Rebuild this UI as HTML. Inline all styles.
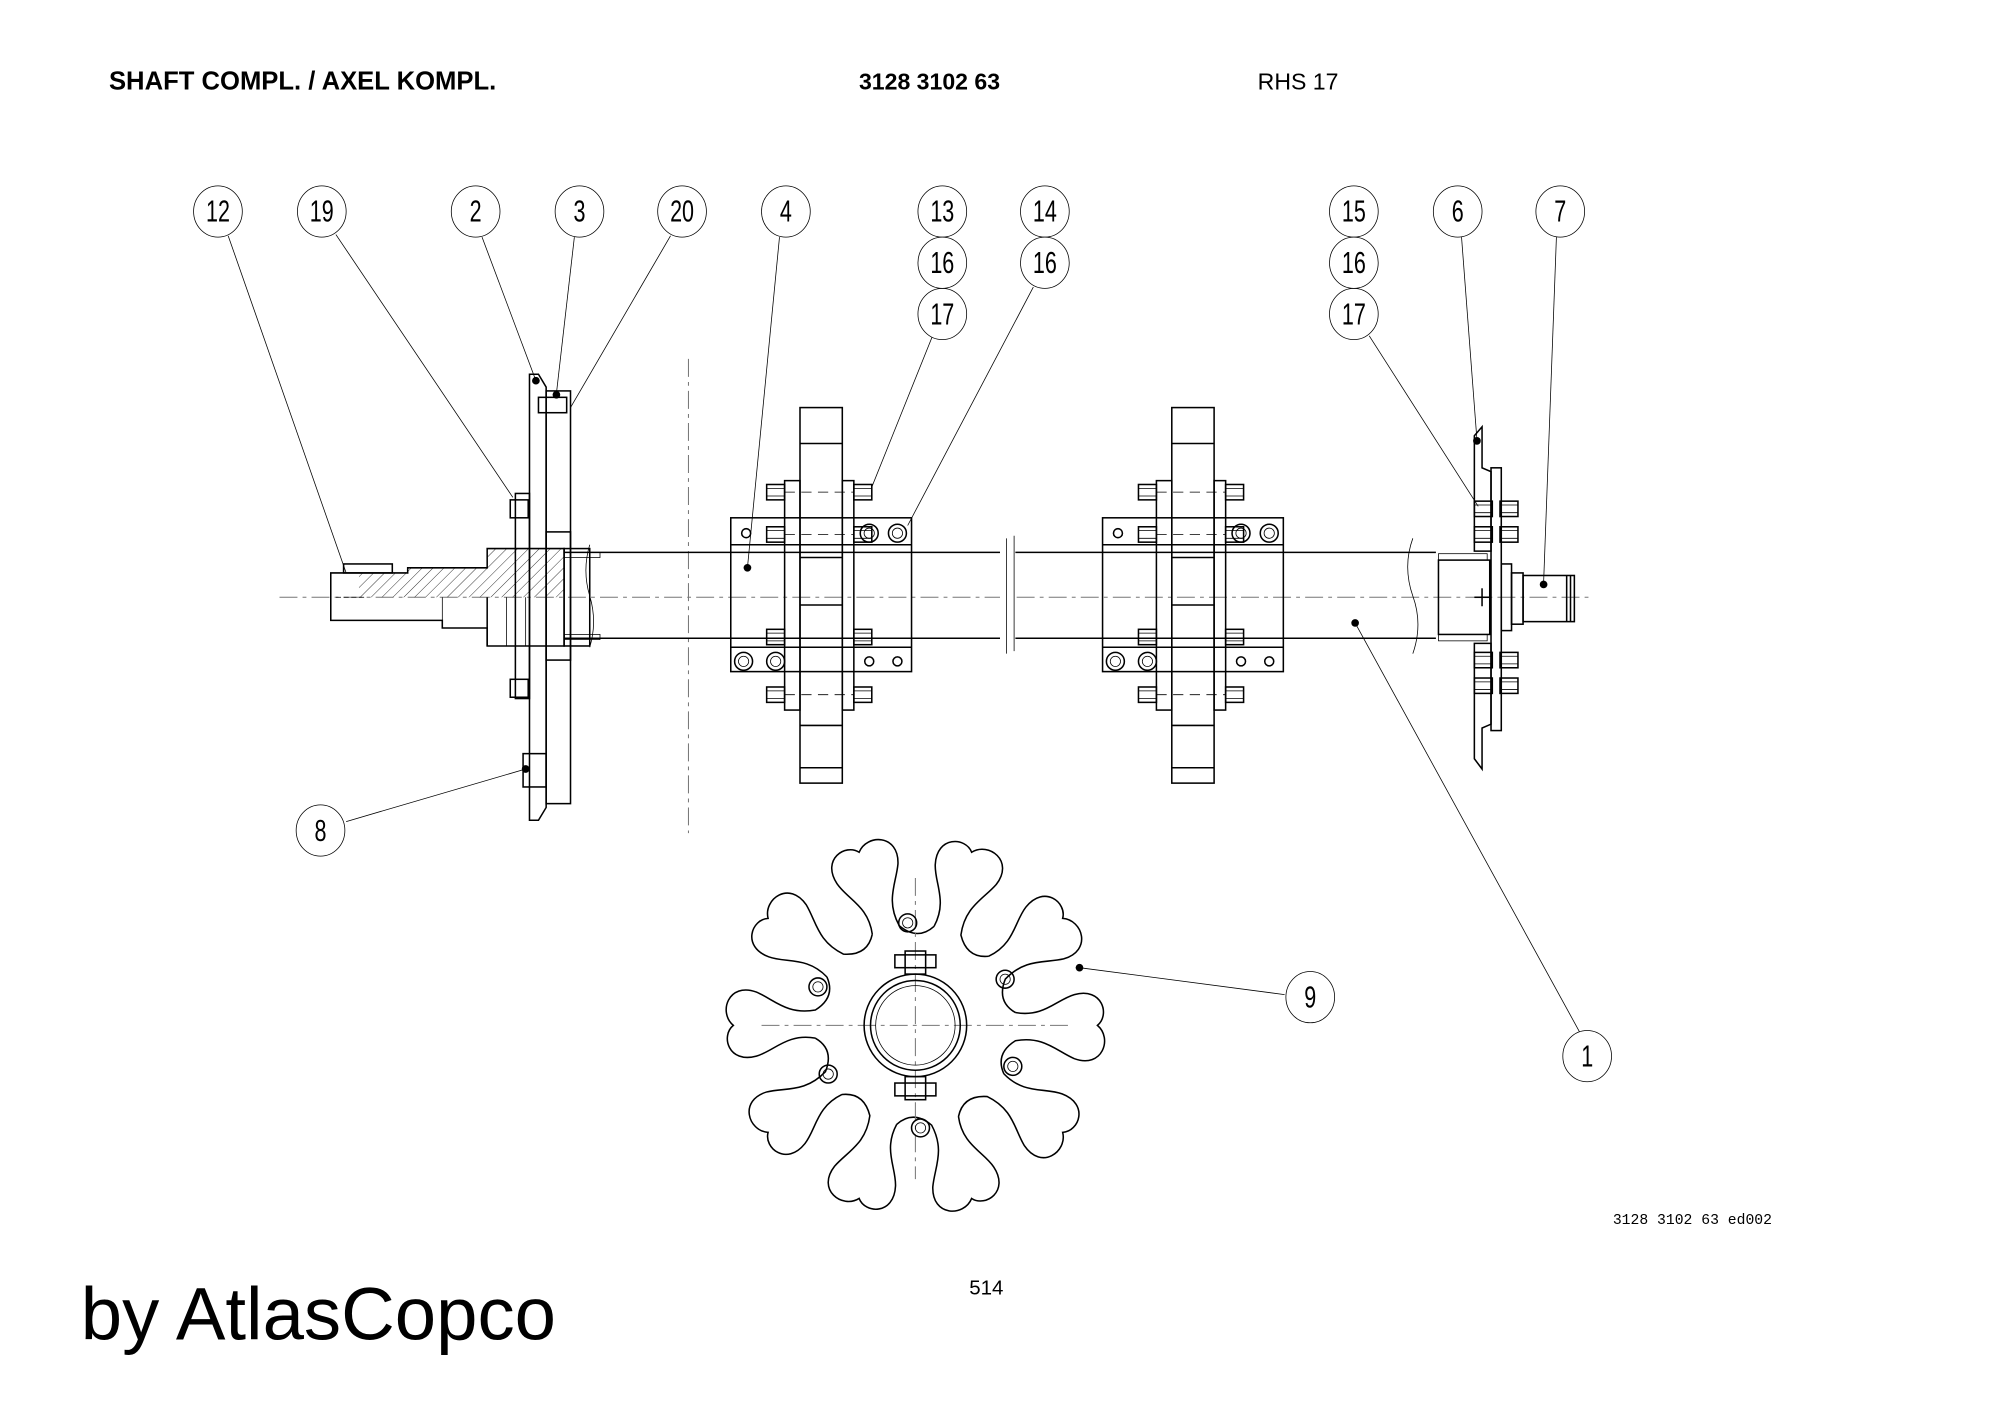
<!DOCTYPE html>
<html><head><meta charset="utf-8"><style>
html,body{margin:0;padding:0;background:#fff}
svg{display:block}
.t{font-family:"Liberation Sans",sans-serif}
.b{fill:none;stroke:#000;stroke-width:1.2}
.th{fill:none;stroke:#000;stroke-width:0.6}
.cl{fill:none;stroke:#777;stroke-width:0.8;stroke-dasharray:14 4 3 4}
.n{font-family:"Liberation Sans",sans-serif;font-size:24px;fill:#000}
</style></head><body>
<svg width="2000" height="1415" viewBox="0 0 1560 1104" preserveAspectRatio="none" xmlns="http://www.w3.org/2000/svg">
<defs>
<pattern id="h" width="6" height="6" patternUnits="userSpaceOnUse" patternTransform="rotate(45)"><line x1="0" y1="0" x2="0" y2="6" stroke="#000" stroke-width="0.6"/></pattern>
<pattern id="x" width="6" height="6" patternUnits="userSpaceOnUse" patternTransform="rotate(45)"><line x1="0" y1="0" x2="0" y2="6" stroke="#000" stroke-width="0.5"/><line x1="0" y1="0" x2="6" y2="0" stroke="#000" stroke-width="0.5"/></pattern>
<g id="bl"><rect x="-7" y="-6" width="14" height="12" class="b" fill="#fff"/><line x1="-7" y1="-3" x2="7" y2="-3" class="th"/><line x1="-7" y1="3" x2="7" y2="3" class="th"/></g>
<g id="ring"><circle r="7" class="b"/><circle r="4" class="th"/></g>
<g id="hub">
<rect x="570" y="404" width="141" height="120" class="b"/>
<line x1="570" y1="425" x2="711" y2="425" class="b"/><line x1="570" y1="505" x2="711" y2="505" class="b"/>
<rect x="612" y="375" width="12" height="179" class="b" fill="#fff"/>
<rect x="657" y="375" width="9" height="179" class="b" fill="#fff"/>
<rect x="624" y="318" width="33" height="293" class="b" fill="#fff"/>
<line x1="624" y1="346" x2="657" y2="346" class="b"/><line x1="624" y1="435" x2="657" y2="435" class="b"/>
<line x1="624" y1="472" x2="657" y2="472" class="b"/><line x1="624" y1="566" x2="657" y2="566" class="b"/>
<line x1="624" y1="599" x2="657" y2="599" class="b"/>
<use href="#bl" x="605" y="384"/><use href="#bl" x="673" y="384"/>
<use href="#bl" x="605" y="417"/><use href="#bl" x="673" y="417"/>
<use href="#bl" x="605" y="497"/><use href="#bl" x="673" y="497"/>
<use href="#bl" x="605" y="542"/><use href="#bl" x="673" y="542"/>
<line x1="612" y1="384" x2="666" y2="384" class="th" stroke-dasharray="8 5"/>
<line x1="612" y1="417" x2="666" y2="417" class="th" stroke-dasharray="8 5"/>
<line x1="612" y1="542" x2="666" y2="542" class="th" stroke-dasharray="8 5"/>
<circle cx="582" cy="416" r="3.5" class="b"/><use href="#ring" x="700" y="416"/><use href="#ring" x="678" y="416"/>
<use href="#ring" x="580" y="516"/><use href="#ring" x="605" y="516"/>
<circle cx="678" cy="516" r="3.5" class="b"/><circle cx="700" cy="516" r="3.5" class="b"/>
</g>
<path id="arm" class="b" d="M -10,-78 C -6,-100 -20,-110 -24,-124 C -30,-146 -8,-152 0,-142 C 10,-154 34,-146 26,-124 C 20,-110 8,-100 12,-78 Q 22,-62 37.8,-69"/>
</defs>

<text class="t" x="85" y="70" font-size="20" font-weight="bold">SHAFT COMPL. / AXEL KOMPL.</text>
<text class="t" x="670" y="70" font-size="18" font-weight="bold">3128 3102 63</text>
<text class="t" x="981" y="70" font-size="18">RHS 17</text>

<!-- leaders -->
<g class="th" stroke-width="0.7">
<line x1="178" y1="184" x2="270" y2="447"/><line x1="262" y1="183" x2="400" y2="388"/>
<line x1="376" y1="185" x2="418" y2="297"/><line x1="448" y1="185" x2="434" y2="307"/>
<line x1="523" y1="184" x2="445" y2="318"/><line x1="608" y1="185" x2="583" y2="443"/>
<line x1="727" y1="263" x2="680" y2="380"/><line x1="806" y1="224" x2="708" y2="410"/>
<line x1="1068" y1="262" x2="1153" y2="395"/><line x1="1140" y1="185" x2="1152" y2="343"/>
<line x1="1214" y1="185" x2="1204" y2="455"/><line x1="1232" y1="805" x2="1057" y2="486"/>
<line x1="1002" y1="776" x2="842" y2="755"/><line x1="270" y1="641" x2="410" y2="600"/>
</g>
<g fill="#000"><circle cx="583" cy="443" r="3"/><circle cx="1057" cy="486" r="3"/><circle cx="842" cy="755" r="3"/><circle cx="410" cy="600" r="3"/><circle cx="1204" cy="456" r="3"/><circle cx="1152" cy="344" r="3"/><circle cx="418" cy="297" r="3"/><circle cx="434" cy="308" r="3"/></g>

<!-- balloons -->
<g class="th" stroke-width="0.8">
<ellipse cx="170" cy="165" rx="19" ry="20"/><ellipse cx="251" cy="165" rx="19" ry="20"/>
<ellipse cx="371" cy="165" rx="19" ry="20"/><ellipse cx="452" cy="165" rx="19" ry="20"/>
<ellipse cx="532" cy="165" rx="19" ry="20"/><ellipse cx="613" cy="165" rx="19" ry="20"/>
<ellipse cx="735" cy="165" rx="19" ry="20"/><ellipse cx="815" cy="165" rx="19" ry="20"/>
<ellipse cx="735" cy="205" rx="19" ry="20"/><ellipse cx="815" cy="205" rx="19" ry="20"/>
<ellipse cx="735" cy="245" rx="19" ry="20"/>
<ellipse cx="1056" cy="165" rx="19" ry="20"/><ellipse cx="1137" cy="165" rx="19" ry="20"/>
<ellipse cx="1217" cy="165" rx="19" ry="20"/><ellipse cx="1056" cy="205" rx="19" ry="20"/>
<ellipse cx="1056" cy="245" rx="19" ry="20"/>
<ellipse cx="250" cy="648" rx="19" ry="20"/><ellipse cx="1022" cy="778" rx="19" ry="20"/>
<ellipse cx="1238" cy="824" rx="19" ry="20"/>
</g>
<g class="n" text-anchor="middle" font-size="22">
<text x="170" y="173" transform="translate(170 0) scale(0.7 1) translate(-170 0)">12</text>
<text x="251" y="173" transform="translate(251 0) scale(0.7 1) translate(-251 0)">19</text>
<text x="371" y="173" transform="translate(371 0) scale(0.7 1) translate(-371 0)">2</text>
<text x="452" y="173" transform="translate(452 0) scale(0.7 1) translate(-452 0)">3</text>
<text x="532" y="173" transform="translate(532 0) scale(0.7 1) translate(-532 0)">20</text>
<text x="613" y="173" transform="translate(613 0) scale(0.7 1) translate(-613 0)">4</text>
<text x="735" y="173" transform="translate(735 0) scale(0.7 1) translate(-735 0)">13</text>
<text x="815" y="173" transform="translate(815 0) scale(0.7 1) translate(-815 0)">14</text>
<text x="735" y="213" transform="translate(735 0) scale(0.7 1) translate(-735 0)">16</text>
<text x="815" y="213" transform="translate(815 0) scale(0.7 1) translate(-815 0)">16</text>
<text x="735" y="253" transform="translate(735 0) scale(0.7 1) translate(-735 0)">17</text>
<text x="1056" y="173" transform="translate(1056 0) scale(0.7 1) translate(-1056 0)">15</text>
<text x="1137" y="173" transform="translate(1137 0) scale(0.7 1) translate(-1137 0)">6</text>
<text x="1217" y="173" transform="translate(1217 0) scale(0.7 1) translate(-1217 0)">7</text>
<text x="1056" y="213" transform="translate(1056 0) scale(0.7 1) translate(-1056 0)">16</text>
<text x="1056" y="253" transform="translate(1056 0) scale(0.7 1) translate(-1056 0)">17</text>
<text x="250" y="656" transform="translate(250 0) scale(0.7 1) translate(-250 0)">8</text>
<text x="1022" y="786" transform="translate(1022 0) scale(0.7 1) translate(-1022 0)">9</text>
<text x="1238" y="832" transform="translate(1238 0) scale(0.7 1) translate(-1238 0)">1</text>
</g>

<!-- centerlines -->
<line x1="218" y1="466" x2="1243" y2="466" class="cl"/>
<line x1="537" y1="280" x2="537" y2="650" class="cl"/>

<!-- tube -->
<line x1="440" y1="431" x2="1120" y2="431" class="b"/>
<line x1="440" y1="498" x2="1120" y2="498" class="b"/>
<path d="M460,425 q-6,20 0,40 q6,20 0,40" class="th"/>
<rect x="780" y="428" width="12" height="74" fill="#fff"/>
<line x1="785" y1="420" x2="785" y2="510" class="th"/><line x1="791" y1="418" x2="791" y2="508" class="th"/>
<path d="M1102,420 q-8,22 0,45 q8,22 0,45" class="th"/>

<!-- left end -->
<path d="M258,447 H318 V443 H380 V428 H440 V504 H380 V490 H345 V484 H258 Z" class="b" fill="#fff"/>
<path d="M280,447 H318 V443 H380 V428 H440 V466 H280 Z" fill="url(#h)" stroke="none"/>
<rect x="268" y="440" width="38" height="7" class="b" fill="#fff"/>
<line x1="262" y1="466" x2="286" y2="466" class="th" stroke-dasharray="4 2"/>
<line x1="345" y1="466" x2="345" y2="490" class="th"/><line x1="380" y1="466" x2="380" y2="504" class="b"/>
<line x1="395" y1="466" x2="395" y2="504" class="th"/><line x1="410" y1="466" x2="410" y2="504" class="th"/>
<rect x="440" y="428" width="20" height="76" class="b" fill="#fff"/>
<rect x="440" y="431" width="28" height="4" fill="url(#h)" class="th"/>
<rect x="440" y="495" width="28" height="4" fill="url(#h)" class="th"/>
<!-- plates -->
<path d="M413,292 H420 L426,302 V630 L420,640 H413 Z" class="b" fill="url(#h)"/>
<rect x="402" y="385" width="11" height="160" class="b" fill="url(#h)"/>
<rect x="426" y="305" width="19" height="322" class="b" fill="url(#x)"/>
<rect x="426" y="415" width="19" height="100" class="b" fill="#fff"/>
<rect x="398" y="390" width="14" height="14" class="b" fill="#fff"/>
<rect x="398" y="530" width="14" height="14" class="b" fill="#fff"/>
<rect x="420" y="310" width="22" height="12" class="b" fill="#fff"/>
<rect x="408" y="588" width="18" height="26" class="b" fill="#fff"/>

<use href="#hub"/>
<use href="#hub" x="290"/>

<!-- right end -->
<rect x="1122" y="432" width="38" height="5" class="th" fill="url(#h)"/>
<rect x="1122" y="495" width="38" height="5" class="th" fill="url(#h)"/>
<rect x="1122" y="437" width="40" height="58" class="b" fill="#fff"/>
<line x1="1150" y1="466" x2="1162" y2="466" class="b"/><line x1="1156" y1="459" x2="1156" y2="473" class="b"/>
<path d="M1150,340 L1156,333 V365 L1163,368 V430 L1150,430 Z" class="b" fill="url(#h)"/>
<path d="M1150,592 L1156,600 V568 L1163,565 V502 L1150,502 Z" class="b" fill="url(#h)"/>
<rect x="1163" y="365" width="8" height="205" class="b" fill="#fff"/>
<rect x="1171" y="440" width="8" height="52" class="b" fill="#fff"/>
<rect x="1179" y="447" width="9" height="40" class="b" fill="#fff"/>
<rect x="1188" y="449" width="40" height="36" class="b" fill="#fff"/>
<line x1="1222" y1="449" x2="1222" y2="485" class="b"/><line x1="1225" y1="449" x2="1225" y2="485" class="b"/>
<g><use href="#bl" x="1157" y="397"/><use href="#bl" x="1177" y="397"/>
<use href="#bl" x="1157" y="417"/><use href="#bl" x="1177" y="417"/>
<use href="#bl" x="1157" y="515"/><use href="#bl" x="1177" y="515"/>
<use href="#bl" x="1157" y="535"/><use href="#bl" x="1177" y="535"/></g>

<!-- star wheel -->
<g transform="translate(714 800)">
<use href="#arm" transform="rotate(18)"/><use href="#arm" transform="rotate(54)"/>
<use href="#arm" transform="rotate(90)"/><use href="#arm" transform="rotate(126)"/>
<use href="#arm" transform="rotate(162)"/><use href="#arm" transform="rotate(198)"/>
<use href="#arm" transform="rotate(234)"/><use href="#arm" transform="rotate(270)"/>
<use href="#arm" transform="rotate(306)"/><use href="#arm" transform="rotate(342)"/>
<line x1="-120" y1="0" x2="120" y2="0" class="cl"/>
<line x1="0" y1="-115" x2="0" y2="120" class="cl"/>
<circle r="40" class="b"/><circle r="35" class="b"/><circle r="31" class="th"/>
<rect x="-8" y="-58" width="16" height="18" class="b" fill="#fff"/><rect x="-16" y="-55" width="32" height="10" class="b" fill="#fff"/>
<rect x="-8" y="40" width="16" height="18" class="b" fill="#fff"/><rect x="-16" y="45" width="32" height="10" class="b" fill="#fff"/>
<g><use href="#ring" x="-6" y="-80"/><use href="#ring" x="70" y="-36"/><use href="#ring" x="76" y="32"/>
<use href="#ring" x="4" y="80"/><use href="#ring" x="-68" y="38"/><use href="#ring" x="-76" y="-30"/></g>
</g>

<text x="1258" y="955" font-family="Liberation Mono,monospace" font-size="11.5">3128 3102 63 ed002</text>
<text class="t" x="756" y="1010" font-size="16">514</text>
<text class="t" x="63" y="1045" font-size="58">by AtlasCopco</text>
</svg>
</body></html>
